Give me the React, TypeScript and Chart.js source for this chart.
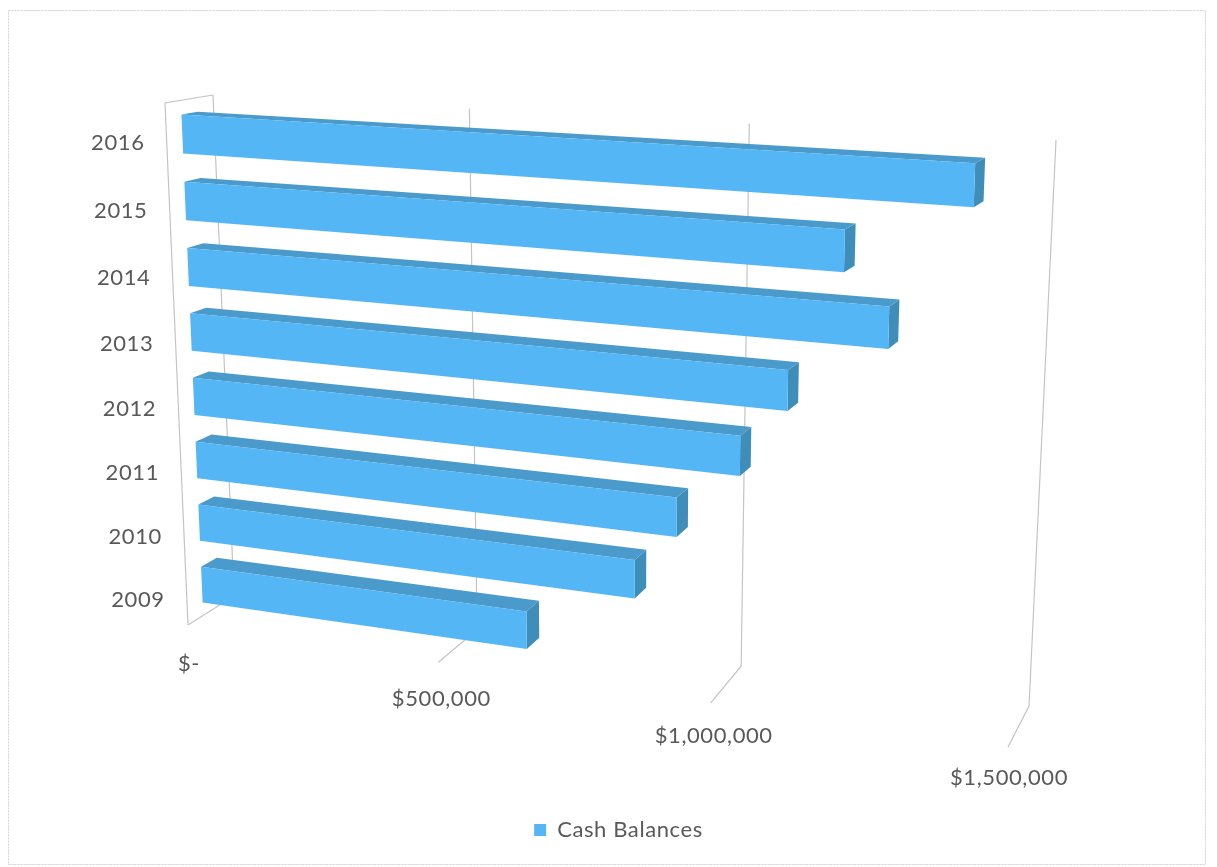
import React, { useEffect, useRef } from "react";
import { Chart, registerables, BarController, BarElement } from "chart.js";

const categories = ["2016", "2015", "2014", "2013", "2012", "2011", "2010", "2009"];
const cashBalances = [1405000, 1200000, 1275000, 1110000, 1030000, 920000, 845000, 645000];
const valueTicks = [0, 500000, 1000000, 1500000];
const seriesName = "Cash Balances";

const FRONT_COLOR = "#55B6F6";
const TOP_COLOR = "#4A9BCB";
const SIDE_COLOR = "#3F8DB9";
const GRID_COLOR = "#c4c4c4";
const TEXT_COLOR = "#595959";
const FONT = "Lato";
const LETTER_SPACING = "0.6px";

type Pt = [number, number];
type Quad = [Pt, Pt, Pt, Pt]; // TL, TR, BR, BL

// Wall outlines of the 3D box on screen
const FRONT_PLANE: Quad = [[165, 103], [1028, 156], [1008, 747], [188, 625]];
const BACK_PLANE: Quad = [[213, 95], [1056, 140], [1029, 706], [234, 596]];
const BAR_NEAR = 0.33;
const BAR_FAR = 0.67;

// Unit square to quadrilateral homography
function homography(q: Quad) {
  const [[x0, y0], [x1, y1], [x2, y2], [x3, y3]] = q;
  const dx1 = x1 - x2, dx2 = x3 - x2, sx = x0 - x1 + x2 - x3;
  const dy1 = y1 - y2, dy2 = y3 - y2, sy = y0 - y1 + y2 - y3;
  const den = dx1 * dy2 - dx2 * dy1;
  const g = (sx * dy2 - dx2 * sy) / den;
  const h = (dx1 * sy - sx * dy1) / den;
  const a = x1 - x0 + g * x1, b = x3 - x0 + h * x3;
  const d = y1 - y0 + g * y1, e = y3 - y0 + h * y3;
  return (u: number, v: number): Pt => {
    const k = g * u + h * v + 1;
    return [(a * u + b * v + x0) / k, (d * u + e * v + y0) / k];
  };
}

const frontMap = homography(FRONT_PLANE);
const backMap = homography(BACK_PLANE);

let plotArea = { left: 0, top: 0, width: 1, height: 1 };

// Chart pixel plus depth (0 = near, 1 = far) to screen position
function project(px: number, py: number, depth: number): Pt {
  const u = (px - plotArea.left) / plotArea.width;
  const v = (py - plotArea.top) / plotArea.height;
  const f = frontMap(u, v);
  const b = backMap(u, v);
  return [f[0] + (b[0] - f[0]) * depth, f[1] + (b[1] - f[1]) * depth];
}

function fillPoly(ctx: CanvasRenderingContext2D, pts: Pt[], color: string) {
  ctx.beginPath();
  pts.forEach((p, i) => (i ? ctx.lineTo(p[0], p[1]) : ctx.moveTo(p[0], p[1])));
  ctx.closePath();
  ctx.fillStyle = color;
  ctx.fill();
}

function strokePath(ctx: CanvasRenderingContext2D, pts: Pt[]) {
  ctx.beginPath();
  pts.forEach((p, i) => (i ? ctx.lineTo(p[0], p[1]) : ctx.moveTo(p[0], p[1])));
  ctx.stroke();
}

// Horizontal bar drawn as an extruded box
class BoxBarElement extends BarElement {
  static id = "boxBar";
  draw(ctx: CanvasRenderingContext2D) {
    const { x, y, base, height } = (this as any).getProps(["x", "y", "base", "height"]);
    const top = y - height / 2;
    const bottom = y + height / 2;
    ctx.save();
    fillPoly(ctx, [project(x, top, BAR_NEAR), project(x, top, BAR_FAR), project(x, bottom, BAR_FAR), project(x, bottom, BAR_NEAR)], SIDE_COLOR);
    fillPoly(ctx, [project(base, top, BAR_NEAR), project(base, top, BAR_FAR), project(x, top, BAR_FAR), project(x, top, BAR_NEAR)], TOP_COLOR);
    fillPoly(ctx, [project(base, top, BAR_NEAR), project(x, top, BAR_NEAR), project(x, bottom, BAR_NEAR), project(base, bottom, BAR_NEAR)], FRONT_COLOR);
    ctx.restore();
  }
}

class BoxBarController extends BarController {
  static id = "boxBars";
  static defaults = { ...BarController.defaults, dataElementType: "boxBar" };
  static overrides = BarController.overrides;
}

Chart.register(...registerables, BoxBarElement, BoxBarController);

function money(v: number) {
  return v === 0 ? "$-" : "$" + v.toLocaleString("en-US");
}

// Outer frame, walls, gridlines and axis labels of the box
const boxAxes = {
  id: "boxAxes",
  beforeLayout(chart: any) {
    chart.ctx.letterSpacing = LETTER_SPACING;
  },
  beforeDraw(chart: any) {
    const { ctx, chartArea, width, height } = chart;
    plotArea = { left: chartArea.left, top: chartArea.top, width: chartArea.width, height: chartArea.height };
    ctx.letterSpacing = LETTER_SPACING;
    ctx.save();
    ctx.fillStyle = "#ffffff";
    ctx.fillRect(0, 0, width, height);
    ctx.strokeStyle = "#d2d2d2";
    ctx.lineWidth = 1;
    ctx.setLineDash([2, 1]);
    ctx.strokeRect(8.5, 10.5, 1197, 854);
    ctx.restore();
  },
  beforeDatasetsDraw(chart: any) {
    const { ctx, chartArea, scales } = chart;
    const { top, bottom, left } = chartArea;
    ctx.save();
    ctx.strokeStyle = GRID_COLOR;
    ctx.lineWidth = 1.2;
    valueTicks.forEach((t) => {
      const x = scales.x.getPixelForValue(t);
      strokePath(ctx, [project(x, top, 1), project(x, bottom, 1), project(x, bottom, 0)]);
    });
    strokePath(ctx, [project(left, top, 1), project(left, top, 0), project(left, bottom, 0)]);

    ctx.fillStyle = TEXT_COLOR;
    ctx.font = `22px ${FONT}`;
    ctx.textBaseline = "middle";
    ctx.textAlign = "center";
    valueTicks.forEach((t, i) => {
      const p = project(scales.x.getPixelForValue(t), bottom, 0);
      ctx.fillText(money(t), p[0] + (i % 3 ? 3 : 1), p[1] + 39 - i * 2.7);
    });
    ctx.textAlign = "right";
    categories.forEach((c, i) => {
      const p = project(left, scales.y.getPixelForValue(i), 0);
      ctx.fillText(c, p[0] - 22, p[1] + 6);
    });
    ctx.restore();
  },
};

export default function App() {
  const ref = useRef<HTMLCanvasElement>(null);
  useEffect(() => {
    const chart = new Chart(ref.current!, {
      type: "boxBars" as any,
      data: {
        labels: categories,
        datasets: [
          {
            label: seriesName,
            data: cashBalances,
            backgroundColor: FRONT_COLOR,
            barPercentage: 0.58,
            categoryPercentage: 1,
          } as any,
        ],
      },
      options: {
        indexAxis: "y",
        responsive: false,
        animation: false,
        layout: { padding: { left: 40, right: 20, top: 20, bottom: 16 } },
        scales: {
          x: { type: "linear", min: 0, max: 1500000, display: false },
          y: { type: "category", display: false },
        },
        plugins: {
          tooltip: { enabled: false },
          legend: {
            position: "bottom",
            labels: {
              boxWidth: 12,
              boxHeight: 12,
              color: TEXT_COLOR,
              font: { family: FONT, size: 22 },
              padding: 6,
            },
          },
        },
      } as any,
      plugins: [boxAxes],
    });
    return () => chart.destroy();
  }, []);
  return (
    <div style={{ position: "absolute", left: 0, top: 0 }}>
      <canvas ref={ref} width={1217} height={867} style={{ display: "block" }} />
    </div>
  );
}
